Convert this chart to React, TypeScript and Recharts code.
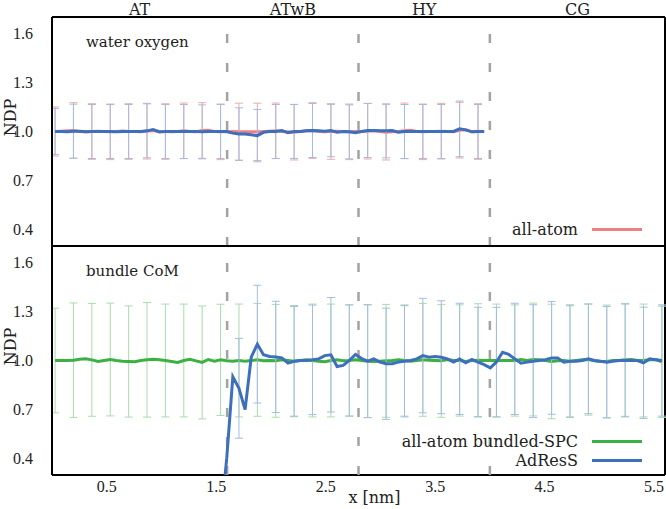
import { LineChart, Line, XAxis, YAxis, ErrorBar, ReferenceLine, Legend } from "recharts";

// bin centres along the pore axis [nm]
const binCenters = [
  0.028, 0.084, 0.14, 0.196, 0.252, 0.308, 0.364, 0.42, 0.476, 0.532,
  0.588, 0.644, 0.7, 0.756, 0.812, 0.868, 0.924, 0.98, 1.036, 1.092,
  1.148, 1.204, 1.26, 1.316, 1.372, 1.428, 1.484, 1.54, 1.596, 1.652,
  1.708, 1.764, 1.82, 1.876, 1.932, 1.988, 2.044, 2.1, 2.156, 2.212,
  2.268, 2.324, 2.38, 2.436, 2.492, 2.548, 2.604, 2.66, 2.716, 2.772,
  2.828, 2.884, 2.94, 2.996, 3.052, 3.108, 3.164, 3.22, 3.276, 3.332,
  3.388, 3.444, 3.5, 3.556, 3.612, 3.668, 3.724, 3.78, 3.836, 3.892,
  3.948, 4.004, 4.06, 4.116, 4.172, 4.228, 4.284, 4.34, 4.396, 4.452,
  4.508, 4.564, 4.62, 4.676, 4.732, 4.788, 4.844, 4.9, 4.956, 5.012,
  5.068, 5.124, 5.18, 5.236, 5.292, 5.348, 5.404, 5.46, 5.516, 5.572,
];

const zoneLabels = ["AT", "ATwB", "HY", "CG"];
const zoneCenters = [0.8, 2.2, 3.4, 4.8];
const zoneBounds = [1.6, 2.8, 4.0];
const xTicks = [0.5, 1.5, 2.5, 3.5, 4.5, 5.5];
const yTicks = [0.4, 0.7, 1.0, 1.3, 1.6];
const xRange = [0, 5.6];
const yRange = [0.3, 1.7];

// water oxygen panel
const waterAllAtom = [
  1.0, 1.002, 1.004, 1.006, 1.0, 0.998, 1.0, 1.002, 1.0, 0.998,
  1.0, 1.003, 1.0, 1.0, 0.998, 1.002, 1.006, 1.0, 1.0, 0.998,
  1.0, 1.004, 1.0, 0.998, 1.006, 1.008, 1.0, 0.998, 0.998, 1.0,
  0.998, 0.998, 0.998, 0.998, 1.0, 1.002, 1.004, 1.0, 0.998, 0.996,
  1.0, 1.004, 1.006, 1.0, 0.998, 1.0, 1.002, 1.0, 0.998, 1.0,
  1.0, 1.002, 1.004, 1.0, 0.996, 0.998, 1.0, 1.004, 1.008, 1.0,
  0.998, 1.0, 1.0, 1.002, 1.0, 0.998, 1.008, 1.01, 0.998, 1.0,
  1.0,
];
const waterAdress = [
  1.0, 1.0, 0.998, 1.002, 1.002, 0.998, 1.0, 1.0, 1.0, 1.0,
  0.998, 1.0, 1.0, 1.0, 1.0, 1.004, 1.012, 0.997, 1.0, 1.0,
  1.0, 1.0, 1.0, 1.0, 0.998, 1.0, 1.0, 1.0, 1.0, 0.99,
  0.985, 0.985, 0.98, 0.975, 0.995, 1.0, 1.0, 1.006, 0.992, 1.0,
  1.0, 1.004, 1.006, 1.004, 1.002, 1.006, 0.996, 1.0, 0.998, 0.992,
  1.0, 1.006, 1.006, 1.004, 1.004, 1.006, 0.996, 1.0, 1.0, 1.0,
  1.0, 1.0, 1.0, 1.0, 1.0, 1.0, 1.016, 1.01, 0.998, 1.0,
  1.0,
];
// error bars on every third bin
const waterAllAtomErr = [
  0.15, 0.17, 0.17, 0.17, 0.17, 0.17, 0.17, 0.17, 0.17, 0.17, 0.175, 0.175,
  0.17, 0.17, 0.17, 0.17, 0.17, 0.17, 0.17, 0.17, 0.17, 0.17, 0.17, 0.17,
];
const waterAdressErr = [
  0.14, 0.165, 0.165, 0.165, 0.165, 0.165, 0.165, 0.165, 0.165, 0.165, 0.16, 0.16,
  0.165, 0.165, 0.165, 0.16, 0.165, 0.165, 0.165, 0.165, 0.165, 0.165, 0.17, 0.165,
];

// bundle centre-of-mass panel
const bundleAllAtom = [
  1.0, 1.0, 1.0, 1.002, 1.008, 1.01, 1.004, 0.994, 1.0, 1.006,
  1.0, 0.996, 0.994, 0.992, 1.0, 1.004, 1.008, 1.004, 1.0, 0.994,
  0.988, 1.0, 1.008, 0.998, 0.988, 1.006, 0.996, 1.004, 0.998, 0.996,
  1.0, 0.996, 1.0, 1.004, 0.998, 1.0, 0.998, 1.004, 1.0, 0.996,
  1.0, 1.004, 1.0, 0.996, 0.992, 1.0, 1.004, 0.998, 1.0, 1.004,
  1.0, 0.996, 0.994, 0.996, 0.998, 1.0, 1.004, 1.0, 0.996, 1.0,
  1.004, 1.002, 1.0, 0.998, 1.006, 1.0, 1.0, 0.994, 1.0, 1.002,
  1.0, 1.0, 1.0, 1.0, 1.0, 1.0, 1.006, 1.0, 1.006, 1.004,
  1.0, 0.994, 0.998, 1.0, 0.996, 1.0, 1.004, 1.006, 0.998, 0.994,
  0.994, 1.0, 1.0, 1.004, 1.006, 1.0, 1.0, 1.004, 1.006, 0.992,
];
const bundleAdressFirstBin = 27;
const bundleAdress = [
  0.02, 0.4, 0.9,
  0.83, 0.7, 1.02, 1.1, 1.035, 1.025, 1.022, 1.016, 0.984, 0.995,
  1.0, 1.0, 1.004, 1.01, 1.03, 1.035, 0.963, 0.97, 1.0, 1.037,
  1.012, 0.996, 1.01, 0.99, 0.98, 0.98, 0.99, 0.995, 1.0, 1.01,
  1.03, 1.02, 1.024, 1.02, 1.01, 0.99, 1.01, 0.986, 1.006, 0.99,
  0.975, 0.955, 0.99, 1.05, 1.037, 1.01, 0.984, 0.99, 0.996, 1.0,
  1.005, 1.016, 1.016, 0.99, 0.995, 0.995, 1.0, 1.01, 1.0, 0.996,
  0.99, 0.995, 1.0, 1.0, 1.0, 1.0, 0.986, 1.01, 1.005, 1.0,
];
const bundleAllAtomErr = [
  0.32, 0.35, 0.345, 0.345, 0.34, 0.35, 0.345, 0.345, 0.345, 0.34, 0.345, 0.345,
  0.345, 0.34, 0.345, 0.345, 0.34, 0.345, 0.345, 0.34, 0.345, 0.345, 0.34, 0.345,
  0.345, 0.34, 0.345, 0.35, 0.345, 0.34, 0.345, 0.345, 0.345, 0.34,
];
const bundleAdressErrFirstBin = 30;
const bundleAdressErr = [
  0.305, 0.36, 0.34, 0.335, 0.335, 0.35, 0.34, 0.345, 0.34, 0.34, 0.35, 0.345,
  0.34, 0.335, 0.335, 0.34, 0.345, 0.345, 0.34, 0.335, 0.34, 0.345, 0.34, 0.34,
];

const topData = binCenters.slice(0, waterAllAtom.length).map((x, i) => ({
  x,
  allAtom: waterAllAtom[i],
  adress: waterAdress[i],
  allAtomErr: i % 3 === 0 ? waterAllAtomErr[i / 3] : undefined,
  adressErr: i % 3 === 0 ? waterAdressErr[i / 3] : undefined,
}));

const bottomData = binCenters.map((x, i) => ({
  x,
  allAtom: bundleAllAtom[i],
  adress: i >= bundleAdressFirstBin ? bundleAdress[i - bundleAdressFirstBin] : null,
  allAtomErr: i % 3 === 0 ? bundleAllAtomErr[i / 3] : undefined,
  adressErr:
    i >= bundleAdressErrFirstBin && i % 3 === 0
      ? bundleAdressErr[(i - bundleAdressErrFirstBin) / 3]
      : undefined,
}));

const RED = "#f08080";
const GREEN = "#3cb043";
const BLUE = "#3d6fbd";

const topLegend = [{ name: "all-atom", color: RED }];
const bottomLegend = [
  { name: "all-atom bundled-SPC", color: GREEN },
  { name: "AdResS", color: BLUE },
];

const font = "'DejaVu Serif', serif";
const numFont = "'Liberation Serif', serif";
const ink = "#222";
const frameInk = "#000";

const W = 666;
const PLOT_H = 229;

function NdpLabel(props: any) {
  const vb = props.viewBox || { y: 0, height: PLOT_H };
  const cx = 10;
  const cy = vb.y + vb.height / 2 - 14;
  return (
    <text
      x={cx}
      y={cy}
      transform={`rotate(-90 ${cx} ${cy})`}
      textAnchor="middle"
      dominantBaseline="central"
      fill={ink}
      fontSize={16}
      fontFamily={font}
    >
      NDP
    </text>
  );
}

function XLabel(props: any) {
  const vb = props.viewBox;
  const cx = vb.x + vb.width / 2 + 16;
  return (
    <text x={cx} y={vb.y + 22} textAnchor="middle" dominantBaseline="central" fill={ink} fontSize={16} fontFamily={font}>
      x [nm]
    </text>
  );
}

const legendBox = (items: { name: string; color: string }[]) => () => (
  <div style={{ fontFamily: font, fontSize: 16, color: ink }}>
    {items.map((it) => (
      <div key={it.name} style={{ display: "flex", justifyContent: "flex-end", alignItems: "center", height: 19 }}>
        <span>{it.name}</span>
        <span style={{ display: "inline-block", width: 50, height: 3, background: it.color, marginLeft: 14 }} />
      </div>
    ))}
  </div>
);

const numTick = { fill: ink, fontSize: 16, fontFamily: numFont };
const zoneTick = { fill: ink, fontSize: 16, fontFamily: font };
const frameStroke = { stroke: frameInk, strokeWidth: 2, shapeRendering: "crispEdges" };

function frameAxes(showBottomLabels: boolean, showZones: boolean) {
  return [
    <XAxis
      key="top"
      xAxisId="top"
      orientation="top"
      type="number"
      dataKey="x"
      domain={xRange}
      allowDataOverflow
      ticks={xTicks}
      interval={0}
      mirror
      tick={false}
      tickSize={7}
      height={0}
      axisLine={frameStroke}
      tickLine={frameStroke}
    />,
    showZones ? (
      <XAxis
        key="zone"
        xAxisId="zone"
        orientation="top"
        type="number"
        dataKey="x"
        domain={xRange}
        allowDataOverflow
        ticks={zoneCenters}
        interval={0}
        tickFormatter={(_v: number, i: number) => zoneLabels[i]}
        axisLine={false}
        tickLine={false}
        tickSize={0}
        tickMargin={2}
        height={17}
        tick={zoneTick}
      />
    ) : null,
    <XAxis
      key="bt"
      xAxisId="bt"
      type="number"
      dataKey="x"
      domain={xRange}
      allowDataOverflow
      ticks={xTicks}
      interval={0}
      mirror
      tick={false}
      tickSize={7}
      height={0}
      axisLine={frameStroke}
      tickLine={frameStroke}
    />,
    <XAxis
      key="b"
      xAxisId="b"
      type="number"
      dataKey="x"
      domain={xRange}
      allowDataOverflow
      ticks={xTicks}
      interval={0}
      axisLine={false}
      tickLine={false}
      tickSize={0}
      tickMargin={6}
      height={showBottomLabels ? 34 : 0}
      tick={showBottomLabels ? numTick : false}
      tickFormatter={(v: number) => v.toFixed(1)}
      label={showBottomLabels ? <XLabel /> : undefined}
    />,
    <YAxis
      key="l"
      yAxisId="l"
      type="number"
      domain={yRange}
      allowDataOverflow
      ticks={yTicks}
      interval={0}
      tickLine={false}
      tickSize={0}
      tickMargin={19}
      width={52}
      axisLine={frameStroke}
      tick={numTick}
      tickFormatter={(v: number) => v.toFixed(1)}
      label={<NdpLabel />}
    />,
    <YAxis
      key="r"
      yAxisId="r"
      orientation="right"
      type="number"
      domain={yRange}
      allowDataOverflow
      ticks={yTicks}
      interval={0}
      mirror
      tick={false}
      tickSize={7}
      width={0}
      axisLine={frameStroke}
      tickLine={frameStroke}
    />,
  ];
}

// box around the panel, drawn through the data scales
function frame() {
  return [
    <ReferenceLine key="fx0" x={xRange[0]} xAxisId="b" yAxisId="l" {...frameStroke} ifOverflow="visible" />,
    <ReferenceLine key="fx1" x={xRange[1]} xAxisId="b" yAxisId="l" {...frameStroke} ifOverflow="visible" />,
    <ReferenceLine key="fy0" y={yRange[0]} xAxisId="b" yAxisId="l" {...frameStroke} ifOverflow="visible" />,
    <ReferenceLine key="fy1" y={yRange[1]} xAxisId="b" yAxisId="l" {...frameStroke} ifOverflow="visible" />,
  ];
}

function zoneLines() {
  return zoneBounds.map((b) => (
    <ReferenceLine
      key={b}
      x={b}
      xAxisId="b"
      yAxisId="l"
      stroke="#a3a3a3"
      strokeWidth={2.5}
      strokeDasharray="9 20"
    />
  ));
}

export default function App() {
  return (
    <div style={{ position: "absolute", left: 0, top: 0, width: W, height: 509, background: "#fff" }}>
      <div style={{ position: "absolute", left: 0, top: 0 }}>
        <LineChart id="water-panel" width={W} height={260} data={topData} margin={{ top: 0, right: 1, bottom: 14, left: 0 }}>
          {frameAxes(false, true)}
          {frame()}
          {zoneLines()}
          <Line
            name="all-atom"
            xAxisId="b"
            yAxisId="l"
            dataKey="allAtom"
            stroke={RED}
            strokeWidth={3}
            dot={false}
            activeDot={false}
            isAnimationActive={false}
          >
            <ErrorBar dataKey="allAtomErr" width={4} stroke="#f5a8a8" strokeWidth={1} direction="y" />
          </Line>
          <Line
            name="AdResS"
            xAxisId="b"
            yAxisId="l"
            dataKey="adress"
            stroke={BLUE}
            strokeWidth={3}
            dot={false}
            activeDot={false}
            isAnimationActive={false}
          >
            <ErrorBar dataKey="adressErr" width={4} stroke="#a4bce2" strokeWidth={1} direction="y" />
          </Line>
          <Legend
            content={legendBox(topLegend)}
            layout="vertical"
            align="center"
            verticalAlign="middle"
            wrapperStyle={{ left: 380, top: 219.5, width: 262 }}
          />
        </LineChart>
      </div>
      <div style={{ position: "absolute", left: 0, top: 236 }}>
        <LineChart id="bundle-panel" width={W} height={273} data={bottomData} margin={{ top: 10, right: 1, bottom: 0, left: 0 }}>
          {frameAxes(true, false)}
          {frame()}
          {zoneLines()}
          <Line
            name="all-atom bundled-SPC"
            xAxisId="b"
            yAxisId="l"
            dataKey="allAtom"
            stroke={GREEN}
            strokeWidth={3}
            dot={false}
            activeDot={false}
            isAnimationActive={false}
          >
            <ErrorBar dataKey="allAtomErr" width={4} stroke="#a9dcaa" strokeWidth={1} direction="y" />
          </Line>
          <Line
            name="AdResS"
            xAxisId="b"
            yAxisId="l"
            dataKey="adress"
            stroke={BLUE}
            strokeWidth={3}
            dot={false}
            activeDot={false}
            isAnimationActive={false}
          >
            <ErrorBar dataKey="adressErr" width={4} stroke="#a4bce2" strokeWidth={1} direction="y" />
          </Line>
          <Legend
            content={legendBox(bottomLegend)}
            layout="vertical"
            align="center"
            verticalAlign="middle"
            wrapperStyle={{ left: 380, top: 195.5, width: 262 }}
          />
        </LineChart>
      </div>
      <div style={{ position: "absolute", left: 86, top: 32, fontFamily: font, fontSize: 15, color: ink, lineHeight: "20px" }}>
        water oxygen
      </div>
      <div style={{ position: "absolute", left: 86, top: 261, fontFamily: font, fontSize: 15, color: ink, lineHeight: "20px" }}>
        bundle CoM
      </div>
    </div>
  );
}
